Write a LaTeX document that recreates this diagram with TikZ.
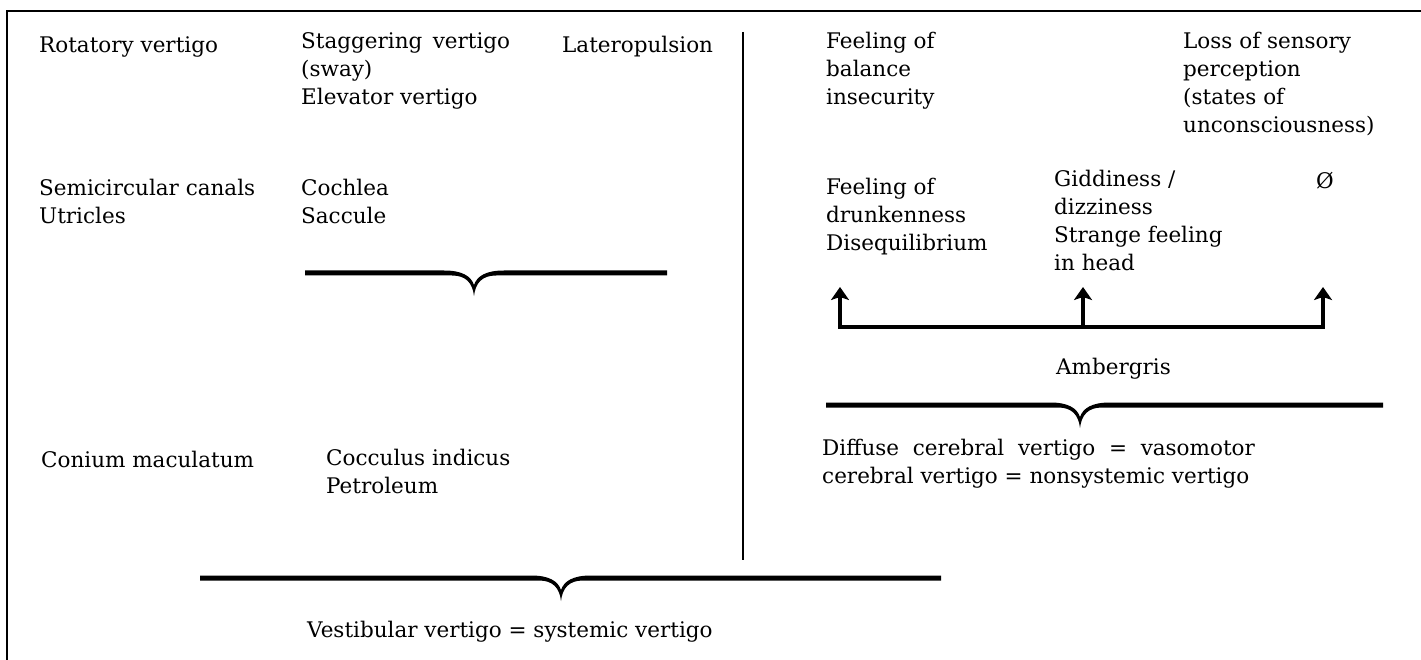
\documentclass[tikz,border=0pt]{standalone}
\usepackage{fontspec}
\setmainfont{DejaVu Serif}
\usepackage{tikz}
\usetikzlibrary{arrows.meta}
\tikzstyle{entry}=[
        anchor=north west,
        align=left,
        inner sep=0pt,
        font=\fontsize{21.5}{28}\selectfont,
        execute at begin node=\strut
]
\tikzstyle{borderline}=[line width=1.6pt]
\tikzstyle{arrowup}=[-{Stealth[length=13pt,width=18pt,inset=3pt]},line width=3.5pt]
\tikzstyle{fork}=[{Stealth[length=13pt,width=18pt,inset=3pt]}-{Stealth[length=13pt,width=18pt,inset=3pt]},line width=3.5pt]
% brace with a pointed dip: left end, right end, dip, height
\newcommand{\dipbrace}[4]{%
  \fill (#1,#4-2.5) -- (#3-30,#4-2.5) .. controls (#3-12,#4-2.5) and (#3-3,#4+3) .. (#3,#4+12)
     .. controls (#3+3,#4+3) and (#3+12,#4-2.5) .. (#3+30,#4-2.5) -- (#2,#4-2.5) -- (#2,#4+2.5)
     -- (#3+22,#4+2.5) .. controls (#3+8,#4+2.5) and (#3+1.5,#4+10) .. (#3,#4+23)
     .. controls (#3-1.5,#4+10) and (#3-8,#4+2.5) .. (#3-22,#4+2.5) -- (#1,#4+2.5) -- cycle;}

\begin{document}
\begin{tikzpicture}[x=1pt,y=-1pt]
\useasboundingbox (0,0) rectangle (1421,660);
%frame and divider
\coordinate (topright) at (1421,11);
\coordinate (corner) at (7,11);
\coordinate (bottomleft) at (7,660);
\coordinate (divtop) at (743,32);
\coordinate (divbot) at (743,560);
\draw[borderline] (topright) -- (corner) -- (bottomleft);
\draw[borderline] (divtop) -- (divbot);
%vestibular side
\node[entry] (rotatory) at (39,32.4) {Rotatory vertigo};
\node[entry] (staggering) at (301,32.4) {Staggering~\,vertigo\\(sway)\\Elevator vertigo};
\node[entry] (latero) at (562,32.4) {Lateropulsion};
\node[entry] (canals) at (39,179.4) {Semicircular canals\\Utricles};
\node[entry] (cochlea) at (301,179.4) {Cochlea\\Saccule};
\node[entry] (conium) at (41,447.4) {Conium maculatum};
\node[entry] (cocculus) at (326,449.4) {Cocculus indicus\\Petroleum};
\node[entry] (vestibular) at (307,617.4) {Vestibular vertigo = systemic vertigo};
%cerebral side
\node[entry] (balance) at (826,32.4) {Feeling of\\balance\\insecurity};
\node[entry] (sensory) at (1183,32.4) {Loss of sensory\\perception\\(states of\\unconsciousness)};
\node[entry] (drunk) at (826,178.4) {Feeling of\\drunkenness\\Disequilibrium};
\node[entry] (giddy) at (1054,170.4) {Giddiness /\\dizziness\\Strange feeling\\in head};
\node[entry] (none) at (1316,168.4) {\O};
\node[entry] (amber) at (1056,354.4) {Ambergris};
\node[entry] (diffuse) at (822,439.4) {Diffuse\ \ cerebral\ \ vertigo\ \ =\ \ vasomotor\\cerebral vertigo = nonsystemic vertigo};
%braces
\dipbrace{305}{667}{474}{273}
\dipbrace{826}{1383}{1080}{405}
\dipbrace{200}{941}{561}{578}
%arrows
\coordinate (fork1) at (840,327);
\coordinate (fork2) at (1083,327);
\coordinate (fork3) at (1323,327);
\coordinate (tip1) at (840,287);
\coordinate (tip2) at (1083,287);
\coordinate (tip3) at (1323,287);
\draw[fork] (tip1) -- (fork1) -- (fork3) -- (tip3);
\draw[arrowup] (fork2) -- (tip2);
\end{tikzpicture}
\end{document}
